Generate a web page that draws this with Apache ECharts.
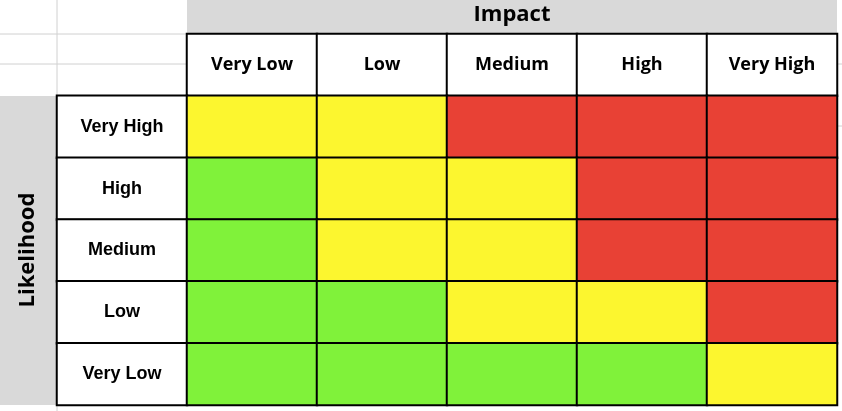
<!DOCTYPE html>
<html>
<head>
<meta charset="utf-8">
<title>Risk Matrix</title>
<script src="https://cdn.jsdelivr.net/npm/echarts@6/dist/echarts.min.js"></script>
<style>html,body{margin:0;background:#fff}#chart{width:842px;height:411px}</style>
</head>
<body>
<div id="chart"></div>
<script>
// impact levels (columns) and likelihood levels (rows, top to bottom)
const impact = ['Very Low', 'Low', 'Medium', 'High', 'Very High'];
const likelihood = ['Very High', 'High', 'Medium', 'Low', 'Very Low'];
// risk level: 0 = low (green), 1 = moderate (yellow), 2 = severe (red)
const riskVeryHigh = [1, 1, 2, 2, 2];
const riskHigh     = [0, 1, 1, 2, 2];
const riskMedium   = [0, 1, 1, 2, 2];
const riskLow      = [0, 0, 1, 1, 2];
const riskVeryLow  = [0, 0, 0, 0, 1];
const riskRows = [riskVeryHigh, riskHigh, riskMedium, riskLow, riskVeryLow];

const riskColors = ['#80F23A', '#FCF62F', '#E84135'];
const headFont = '"Open Sans", "Liberation Sans", sans-serif';
const cellFont = '"Liberation Sans", Arial, sans-serif';

// grid includes header row and label column as white cells
const xCats = ['_label'].concat(impact);
const yCats = ['_head'].concat(likelihood);

const data = [];
impact.forEach((name, i) => {
  data.push({value: [i + 1, 0, -1], name: name,
    itemStyle: {color: '#fff'},
    label: {show: true, formatter: name, fontFamily: headFont}});
});
likelihood.forEach((name, r) => {
  data.push({value: [0, r + 1, -1], name: name,
    itemStyle: {color: '#fff'},
    label: {show: true, formatter: name}});
  riskRows[r].forEach((v, c) => {
    data.push({value: [c + 1, r + 1, v], itemStyle: {color: riskColors[v]}});
  });
});

const light = {stroke: '#d0d0d0', lineWidth: 1};
const chart = echarts.init(document.getElementById('chart'));
chart.setOption({
  animation: false,
  grid: {left: 57, top: 34, width: 780, height: 371},
  xAxis: {type: 'category', data: xCats, show: false},
  yAxis: {type: 'category', data: yCats, inverse: true, show: false},
  graphic: [
    {type: 'rect', shape: {x: 187, y: 0, width: 650, height: 34}, style: {fill: '#d9d9d9'}, z: -1},
    {type: 'rect', shape: {x: 0, y: 96, width: 57, height: 309}, style: {fill: '#d9d9d9'}, z: -1},
    {type: 'line', shape: {x1: 57, y1: 0, x2: 57, y2: 96}, style: light, z: -1},
    {type: 'line', shape: {x1: 0, y1: 34, x2: 187, y2: 34}, style: light, z: -1},
    {type: 'line', shape: {x1: 0, y1: 64, x2: 187, y2: 64}, style: light, z: -1},
    {type: 'line', shape: {x1: 837, y1: 64, x2: 842, y2: 64}, style: light, z: -1},
    {type: 'line', shape: {x1: 837, y1: 126, x2: 842, y2: 126}, style: light, z: -1},
    {type: 'line', shape: {x1: 57, y1: 405, x2: 57, y2: 411}, style: light, z: -1},
    {type: 'text', x: 512, y: 15, style: {text: 'Impact', font: 'bold 22px ' + headFont,
      fill: '#000', textAlign: 'center', textVerticalAlign: 'middle'}},
    {type: 'text', x: 28, y: 250, rotation: Math.PI / 2, style: {text: 'Likelihood',
      font: 'bold 22px ' + headFont, fill: '#000', textAlign: 'center', textVerticalAlign: 'middle'}}
  ],
  series: [{
    type: 'heatmap',
    data: data,
    itemStyle: {borderColor: '#000', borderWidth: 2},
    label: {show: false, color: '#000', fontWeight: 'bold', fontSize: 18, fontFamily: cellFont},
    emphasis: {disabled: true}
  }]
});
</script>
</body>
</html>
